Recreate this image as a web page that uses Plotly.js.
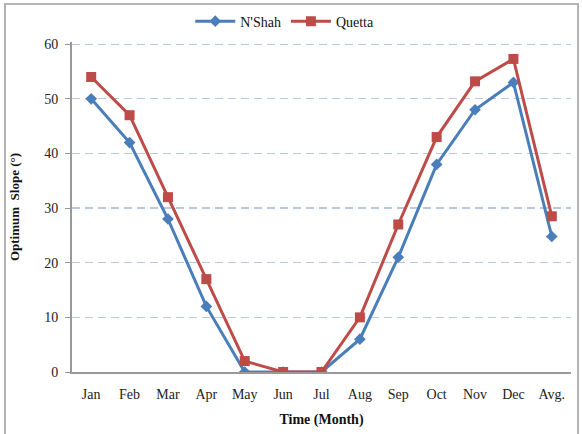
<!DOCTYPE html>
<html>
<head>
<meta charset="utf-8">
<script src="https://cdn.plot.ly/plotly-3.0.1.min.js"></script>
<style>
html,body{margin:0;padding:0;background:#fff;}
#wrap{position:relative;width:582px;height:434px;}
#chart{width:582px;height:434px;}
#frame{position:absolute;left:4px;top:3px;width:571px;height:440px;border:2px solid #b4b4b4;pointer-events:none;}
</style>
</head>
<body>
<div id="wrap"><div id="chart"></div><div id="frame"></div></div>
<script>
var months = ["Jan","Feb","Mar","Apr","May","Jun","Jul","Aug","Sep","Oct","Nov","Dec","Avg."];
var nshah = [50, 42, 28, 12, 0, 0, 0, 6, 21, 38, 48, 53, 24.8];
var quetta = [54, 47, 32, 17, 2, 0, 0, 10, 27, 43, 53.2, 57.3, 28.5];
var yTicks = [0, 10, 20, 30, 40, 50, 60];

// drop lines from each point down to the axis
var dropX = [], dropY = [];
for (var i = 0; i < months.length; i++) {
  var top = Math.max(nshah[i], quetta[i]);
  dropX.push(months[i], months[i], null);
  dropY.push(0, top, null);
}

var font = "Liberation Serif, Times New Roman, serif";
var traces = [
  {x: dropX, y: dropY, mode: "lines", showlegend: false, hoverinfo: "skip",
   line: {color: "#d99090", width: 1.2, dash: "6px,3px,1px,3px"}},
  {x: months, y: nshah, name: "N'Shah", mode: "lines+markers",
   line: {color: "#4a7ebb", width: 3},
   marker: {symbol: "diamond", size: 9, color: "#4a7ebb"}},
  {x: months, y: quetta, name: "Quetta", mode: "lines+markers",
   line: {color: "#be4b48", width: 3},
   marker: {symbol: "square", size: 10, color: "#be4b48"}}
];

var layout = {
  width: 582, height: 434,
  margin: {l: 72, r: 11, t: 42, b: 62, autoexpand: false},
  paper_bgcolor: "#fff", plot_bgcolor: "#fff",
  font: {family: font, size: 14, color: "#222"},
  showlegend: true,
  legend: {orientation: "h", x: 0.237, xanchor: "left", y: 1.062, yanchor: "middle",
           font: {family: font, size: 14, color: "#111"}, itemwidth: 40, tracegroupgap: 0},
  xaxis: {
    type: "category", range: [-0.5, 12.5],
    showgrid: false, zeroline: false,
    showline: true, linecolor: "#999", linewidth: 2,
    ticks: "", ticklabelstandoff: 8, tickfont: {family: font, size: 14, color: "#222"},
    title: {text: "<b>Time (Month)</b>", font: {family: font, size: 14, color: "#111"}, standoff: 13}
  },
  yaxis: {
    range: [0, 60.4], tickvals: yTicks,
    showgrid: true, gridcolor: "#b9c9e0", griddash: "8px,5px", gridwidth: 1.3,
    zeroline: false, showline: true, linecolor: "#999", linewidth: 2,
    ticks: "outside", ticklen: 5, tickcolor: "#999", ticklabelstandoff: 4,
    tickfont: {family: font, size: 14, color: "#222"},
    title: {text: "<b>Optimum  Slope (°)</b>", font: {family: font, size: 13, color: "#111"}, standoff: 22}
  }
};

Plotly.newPlot("chart", traces, layout, {displayModeBar: false, staticPlot: true});
</script>
</body>
</html>
